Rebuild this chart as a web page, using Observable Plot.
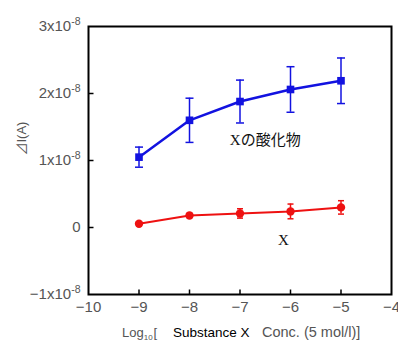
<!DOCTYPE html>
<html><head><meta charset="utf-8">
<script src="https://cdn.jsdelivr.net/npm/d3@7"></script>
<script src="https://cdn.jsdelivr.net/npm/@observablehq/plot@0.6"></script>
<style>body{margin:0;background:#fff}</style>
</head><body><div id="chart"></div>
<script>
// ---- data ----
const concLog = [-9, -8, -7, -6, -5];
const oxideValues = [1.05e-8, 1.60e-8, 1.88e-8, 2.06e-8, 2.19e-8];
const oxideErrors = [0.15e-8, 0.33e-8, 0.32e-8, 0.34e-8, 0.34e-8];
const xValues = [0.055e-8, 0.18e-8, 0.21e-8, 0.24e-8, 0.30e-8];
const xErrors = [0.02e-8, 0.03e-8, 0.07e-8, 0.11e-8, 0.10e-8];
const xTicks = [-10, -9, -8, -7, -6, -5, -4];
const yTicks = [-1e-8, 0, 1e-8, 2e-8, 3e-8];
const xInnerTicks = [-9, -8, -7, -6, -5];
const yInnerTicks = [0, 1e-8, 2e-8];
const annotationTexts = ["Xの酸化物", "X"];
const annotationX = [-6.5, -6.14];
const annotationY = [1.31e-8, -0.19e-8];
const yLabel = "⊿I(A)";
const xLabelLog = ["Log", "10", "["];
const xLabelSubstance = "Substance X";
const xLabelConc = "Conc. (5 mol/l)]";

const blue = "#1212e0", red = "#ee1111";
const oxide = concLog.map((x, i) => ({x, y: oxideValues[i], e: oxideErrors[i]}));
const subst = concLog.map((x, i) => ({x, y: xValues[i], e: xErrors[i]}));
const annotations = annotationTexts.map((t, i) => ({t, x: annotationX[i], y: annotationY[i]}));

const capSym = {draw(ctx, size) { const w = Math.sqrt(size / Math.PI); ctx.moveTo(-w, 0); ctx.lineTo(w, 0); }};
const tickRight = {draw(ctx, size) { const w = Math.sqrt(size / Math.PI); ctx.moveTo(0, 0); ctx.lineTo(w, 0); }};
const tickUp = {draw(ctx, size) { const w = Math.sqrt(size / Math.PI); ctx.moveTo(0, 0); ctx.lineTo(0, -w); }};
const fmtInt = d3.format("d");

function errorMarks(data, color, capR, sw) {
  return [
    Plot.ruleX(data, {x: "x", y1: d => d.y - d.e, y2: d => d.y + d.e, stroke: color, strokeWidth: sw}),
    Plot.dot(data, {x: "x", y: d => d.y + d.e, symbol: capSym, r: capR, stroke: color, fill: "none", strokeWidth: sw}),
    Plot.dot(data, {x: "x", y: d => d.y - d.e, symbol: capSym, r: capR, stroke: color, fill: "none", strokeWidth: sw})
  ];
}

const svg = Plot.plot({
  width: 398, height: 342,
  marginLeft: 88, marginRight: 7, marginTop: 26, marginBottom: 48,
  style: {fontFamily: "'Liberation Sans', Arial, sans-serif", fontSize: "15px", background: "#fff", color: "#555"},
  x: {domain: [-10, -4], label: null},
  y: {domain: [-1e-8, 3e-8], label: null},
  marks: [
    Plot.axisX(xTicks, {tickSize: 0, tickPadding: 7, tickFormat: d => fmtInt(d), fontSize: 15, label: null}),
    Plot.axisY(yTicks, {tickSize: 0, tickPadding: 8, fontSize: 15, label: null,
      tickFormat: d => d === 0 ? "0" : `${fmtInt(Math.round(d / 1e-8))}x10|-8`}),
    Plot.dot(yInnerTicks, {y: d => d, frameAnchor: "left", symbol: tickRight, r: 5, stroke: "#000", fill: "none", strokeWidth: 1.5}),
    Plot.dot(xInnerTicks, {x: d => d, frameAnchor: "bottom", symbol: tickUp, r: 5, stroke: "#000", fill: "none", strokeWidth: 1.5}),
    Plot.frame({stroke: "#000", strokeWidth: 2}),
    ...errorMarks(oxide, blue, 4, 1.5),
    Plot.line(oxide, {x: "x", y: "y", stroke: blue, strokeWidth: 2.5}),
    Plot.dot(oxide, {x: "x", y: "y", symbol: "square", r: 4.3, fill: blue}),
    ...errorMarks(subst, red, 3, 1.5),
    Plot.line(subst, {x: "x", y: "y", stroke: red, strokeWidth: 2}),
    Plot.dot(subst, {x: "x", y: "y", symbol: "circle", r: 4.2, fill: red}),
    Plot.text(annotations, {x: "x", y: "y", text: "t", fill: "#111", fontSize: 15,
      fontFamily: "'Liberation Serif', 'Noto Sans CJK JP', serif"}),
    Plot.text([yLabel], {frameAnchor: "left", dx: -67, dy: -5, rotate: -90, fill: "#555", fontSize: 13,
      fontFamily: "'Liberation Sans', 'Noto Sans CJK JP', sans-serif"})
  ]
});

const root = d3.select(svg);
root.selectAll("text").each(function() {
  const t = this.textContent;
  if (t.includes("|")) {
    const [base, exp] = t.split("|");
    const sel = d3.select(this);
    sel.text(null);
    sel.append("tspan").text(base);
    sel.append("tspan").attr("dy", -6).attr("font-size", 10.5).text(exp);
  }
});

const xl = root.append("text").attr("x", 122).attr("y", 337).attr("fill", "#555").attr("font-size", 13).attr("text-anchor", "start");
xl.append("tspan").text(xLabelLog[0]);
xl.append("tspan").attr("font-size", 8).attr("dy", 3).text(xLabelLog[1]);
xl.append("tspan").attr("dy", -3).attr("dx", 1).text(xLabelLog[2]);
root.append("text").attr("x", 173).attr("y", 336.5).attr("fill", "#000").attr("font-size", 13.5).attr("text-anchor", "start").text(xLabelSubstance);
root.append("text").attr("x", 262).attr("y", 337).attr("fill", "#555").attr("font-size", 14.5).attr("text-anchor", "start").text(xLabelConc);

document.getElementById("chart").appendChild(svg);
</script>
</body></html>
